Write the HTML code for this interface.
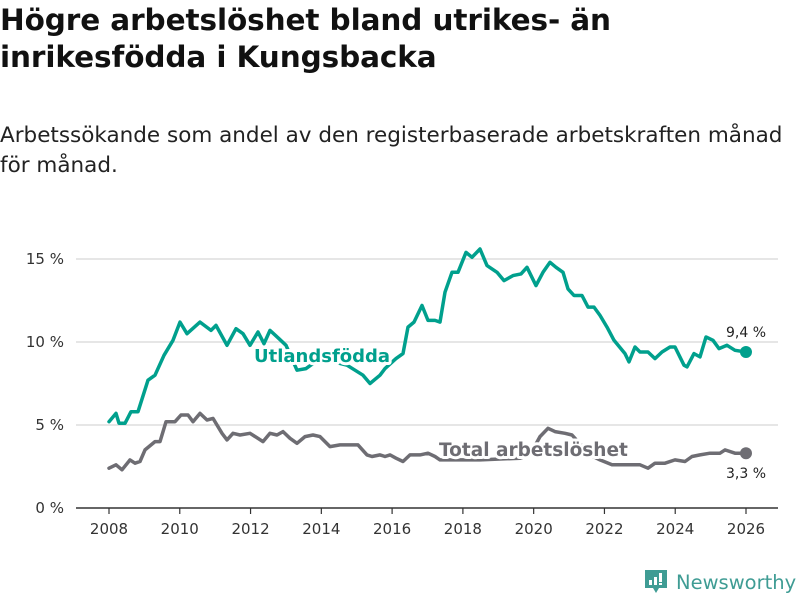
<!DOCTYPE html>
<html><head><meta charset="utf-8"><style>
body{margin:0;background:#fff;width:800px;height:600px;overflow:hidden;font-family:"DejaVu Sans","Liberation Sans",sans-serif;}
h1{position:absolute;left:0;top:2px;margin:0;font-size:29.5px;line-height:37px;font-weight:bold;color:#111;width:800px;letter-spacing:-0.1px;white-space:nowrap}
p{position:absolute;left:0;top:121px;margin:0;font-size:21.5px;line-height:30px;color:#222;width:800px;white-space:nowrap}
svg{position:absolute;left:0;top:0}
</style></head><body>
<h1>Högre arbetslöshet bland utrikes- än<br>inrikesfödda i Kungsbacka</h1>
<p>Arbetssökande som andel av den registerbaserade arbetskraften månad<br>för månad.</p>
<svg id="c" width="800" height="600"></svg>
<script>
const yTicks=[0,5,10,15];
const yTickLabels=["0 %","5 %","10 %","15 %"];
const xTicks=[2008,2010,2012,2014,2016,2018,2020,2022,2024,2026];
const utlandsPx=[109,116,119,125,131,138,148,155,164,173,180,187,200,211,216,227,236,243,250,258,264,270,279,286,297,306,320,334,347,355,363,370,380,385,396,403,408,414,422,428,435,440,445,452,458,466,472,480,487,497,504,513,521,527,536,543,550,556,563,568,574,582,588,594,600,607,614,625,629,635,640,648,655,662,670,675,684,687,694,700,706,713,719,727,735,746];
const utlandsVal=[5.2,5.7,5.1,5.1,5.8,5.8,7.7,8.0,9.2,10.1,11.2,10.5,11.2,10.7,11.0,9.8,10.8,10.5,9.8,10.6,9.9,10.7,10.2,9.8,8.3,8.4,9.0,8.8,8.6,8.3,8.0,7.5,8.0,8.4,9.0,9.3,10.9,11.2,12.2,11.3,11.3,11.2,13.0,14.2,14.2,15.4,15.1,15.6,14.6,14.2,13.7,14.0,14.1,14.5,13.4,14.2,14.8,14.5,14.2,13.2,12.8,12.8,12.1,12.1,11.6,10.9,10.1,9.3,8.8,9.7,9.4,9.4,9.0,9.4,9.7,9.7,8.6,8.5,9.3,9.1,10.3,10.1,9.6,9.8,9.5,9.4];
const totalPx=[109,116,122,130,135,140,145,155,160,166,175,181,188,193,200,207,213,222,227,233,240,250,263,270,277,283,290,297,305,313,320,330,340,350,358,367,372,380,385,390,396,403,410,420,428,435,440,480,520,530,540,548,555,565,572,590,600,612,625,640,648,655,665,675,685,692,700,710,720,725,735,746];
const totalVal=[2.4,2.6,2.3,2.9,2.7,2.8,3.5,4.0,4.0,5.2,5.2,5.6,5.6,5.2,5.7,5.3,5.4,4.5,4.1,4.5,4.4,4.5,4.0,4.5,4.4,4.6,4.2,3.9,4.3,4.4,4.3,3.7,3.8,3.8,3.8,3.2,3.1,3.2,3.1,3.2,3.0,2.8,3.2,3.2,3.3,3.1,2.9,2.9,3.0,3.2,4.3,4.8,4.6,4.5,4.4,3.2,2.9,2.6,2.6,2.6,2.4,2.7,2.7,2.9,2.8,3.1,3.2,3.3,3.3,3.5,3.3,3.3];
const utlandsDates=utlandsPx.map(p=>2008+(p-109)/35.39);
const totalDates=totalPx.map(p=>2008+(p-109)/35.39);
const X=d=>109+(d-2008)*(746-109)/18;
const Y=v=>508-v*16.6;
const NS="http://www.w3.org/2000/svg",svg=document.getElementById('c');
function mk(t,a,txt){const e=document.createElementNS(NS,t);for(const k in a)e.setAttribute(k,a[k]);if(txt!==undefined)e.textContent=txt;svg.appendChild(e);return e;}
yTicks.forEach((v,i)=>{
 if(v>0){const g=mk('line',{x1:76,x2:778,y1:Y(v),y2:Y(v),stroke:'#ddd','stroke-width':1.5});
 
 }
 const t=mk('text',{x:64,y:Y(v)+5,'text-anchor':'end','font-size':15,fill:'#333'},yTickLabels[i]);
 
 
});
const ax=mk('line',{x1:76,x2:778,y1:508,y2:508,stroke:'#333','stroke-width':1.5});


xTicks.forEach(d=>{
 const tk=mk('line',{x1:X(d),x2:X(d),y1:508,y2:514,stroke:'#333','stroke-width':1.2});
 
 
 const t=mk('text',{x:X(d),y:534,'text-anchor':'middle','font-size':15,fill:'#333'},String(d));
 
 
});
function line(dates,vals,col,name){
 const d=dates.map((x,i)=>(i?'L':'M')+X(x).toFixed(1)+','+Y(vals[i]).toFixed(1)).join('');
 const p=mk('path',{d:d,fill:'none',stroke:col,'stroke-width':3.5,'stroke-linejoin':'round','stroke-linecap':'round'});
 
 
 const n=dates.length-1;
 const c=mk('circle',{cx:X(dates[n]),cy:Y(vals[n]),r:6,fill:col});
 
 
}
line(totalDates,totalVal,'#6e6d73','total');
line(utlandsDates,utlandsVal,'#00a08d','utlandsfodda');
const l1=mk('text',{x:254,y:362,'font-size':18,'font-weight':'bold',fill:'#00a08d',stroke:'#fff','stroke-width':6,'paint-order':'stroke','stroke-linejoin':'round'},'Utlandsfödda');


const l2=mk('text',{x:439,y:456,'font-size':18.5,'font-weight':'bold',fill:'#6e6d73',stroke:'#fff','stroke-width':6,'paint-order':'stroke','stroke-linejoin':'round'},'Total arbetslöshet');


const n1=utlandsVal.length-1,n2=totalVal.length-1;
const v1=mk('text',{x:746,y:Y(utlandsVal[n1])-15,'text-anchor':'middle','font-size':14,fill:'#222'},String(utlandsVal[n1]).replace('.',',')+' %');


const v2=mk('text',{x:746,y:Y(totalVal[n2])+25,'text-anchor':'middle','font-size':14,fill:'#222'},String(totalVal[n2]).replace('.',',')+' %');


</script>
<div style="position:absolute;left:644px;top:568px;height:28px;display:flex;align-items:center">
<svg width="24" height="28" style="position:static" viewBox="0 0 24 28"><path d="M1 2h22v18h-8l-3 5-3-5H1z" fill="#3f9c94"/><rect x="5" y="12" width="3" height="5" fill="#fff"/><rect x="10" y="9" width="3" height="8" fill="#fff"/><rect x="15" y="5" width="3" height="9" fill="#fff"/><rect x="15" y="15" width="3" height="2" fill="#fff"/></svg>
<span style="margin-left:8px;font-size:19.5px;color:#3f9c94;font-family:'DejaVu Sans',sans-serif">Newsworthy</span></div>
</body></html>
